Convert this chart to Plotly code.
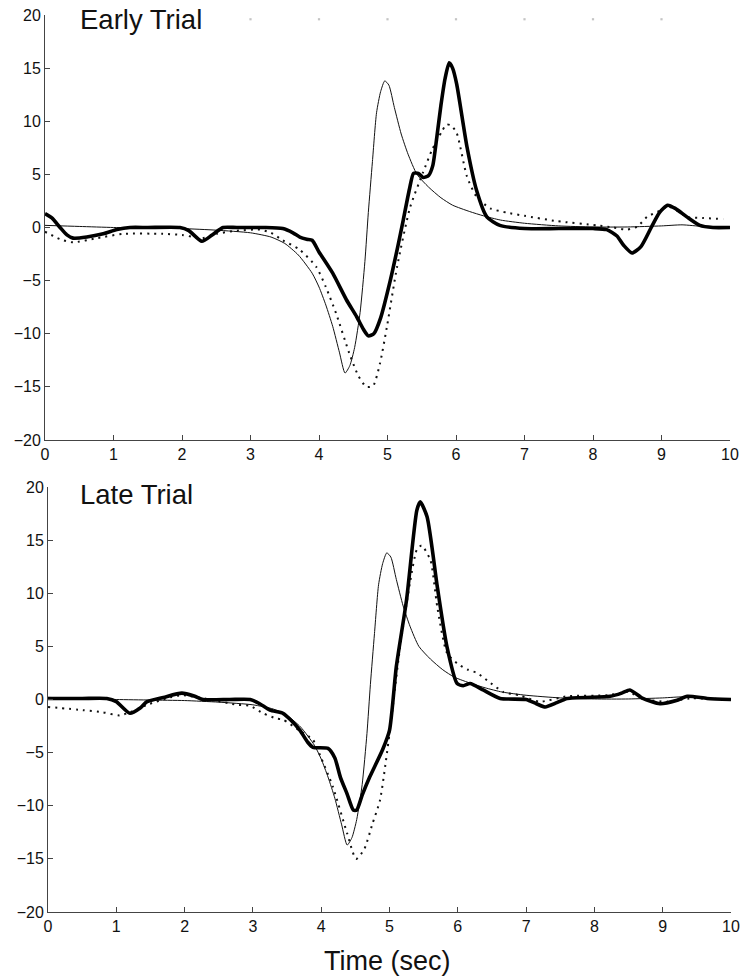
import plotly.graph_objects as go

# ---------------- data ----------------
# model / reference curve (thin line), same in both panels
model_t = [0, 0.5, 1.0, 1.5, 2.0, 2.5, 3.0, 3.3, 3.5, 3.7, 3.9, 4.0, 4.1, 4.2, 4.3, 4.38,
           4.45, 4.52, 4.6, 4.67, 4.72, 4.78, 4.84, 4.9, 4.96, 5.02, 5.1, 5.2, 5.3, 5.43,
           5.6, 5.78, 5.95, 6.2, 6.4, 6.65, 7.0, 7.5, 8.0, 8.5, 9.0, 9.3, 9.6, 10.0]
model_v = [0.2, 0.1, 0.0, -0.05, -0.1, -0.25, -0.5, -0.9, -1.5, -2.6, -4.3, -5.6, -7.3, -9.3, -11.8, -13.7,
           -13.0, -11.3, -8.0, -3.2, 1.4, 6.2, 10.8, 12.8, 13.8, 13.4, 11.3, 8.8, 6.9, 5.0,
           3.8, 2.8, 2.1, 1.5, 1.1, 0.7, 0.4, 0.15, 0.05, 0.05, 0.15, 0.25, 0.1, 0.0]

# Early trial, thick line
early_thick_t = [0, 0.1, 0.22, 0.32, 0.41, 0.61, 0.85, 1.05, 1.24, 1.5, 1.97, 2.1, 2.29, 2.44, 2.6,
                 2.8, 3.2, 3.47, 3.62, 3.72, 3.82, 3.9, 4.0, 4.2, 4.4, 4.55, 4.65, 4.72, 4.8, 4.9,
                 5.04, 5.15, 5.23, 5.32, 5.38, 5.45, 5.52, 5.6, 5.66, 5.72, 5.78, 5.84, 5.9, 5.95,
                 6.01, 6.16, 6.3, 6.45, 6.64, 7.0, 7.5, 8.0, 8.2, 8.35, 8.45, 8.57, 8.7, 8.85, 8.97,
                 9.09, 9.2, 9.37, 9.56, 9.75, 10.0]
early_thick_v = [1.3, 0.9, 0.0, -0.7, -1.0, -0.9, -0.6, -0.2, 0.0, 0.0, 0.0, -0.3, -1.3, -0.7, 0.0,
                 0.0, 0.0, -0.1, -0.5, -0.9, -1.1, -1.2, -2.3, -4.3, -6.8, -8.4, -9.6, -10.2, -10.0, -8.5,
                 -5.0, -1.8, 0.7, 3.6, 5.1, 5.1, 4.7, 4.9, 5.8, 8.5, 11.5, 14.0, 15.5, 15.0,
                 13.5, 7.6, 3.5, 1.0, 0.2, -0.1, -0.1, -0.1, -0.2, -0.8, -1.7, -2.4, -1.8, 0.0, 1.4,
                 2.1, 1.8, 1.0, 0.2, 0.0, 0.0]

# Early trial, dotted line
early_dot_t = [0, 0.22, 0.41, 0.76, 1.14, 1.72, 2.0, 2.3, 2.5, 2.8, 3.14, 3.3, 3.47, 3.72, 3.96,
               4.1, 4.25, 4.44, 4.57, 4.69, 4.79, 4.89, 4.99, 5.14, 5.33, 5.52, 5.65, 5.79, 5.86,
               5.93, 6.01, 6.16, 6.3, 6.5, 6.74, 7.0, 7.47, 8.06, 8.3, 8.5, 8.65, 8.79, 8.98, 9.09,
               9.2, 9.37, 9.6, 9.9]
early_dot_v = [-0.4, -1.1, -1.4, -1.0, -0.6, -0.6, -0.7, -1.0, -0.6, -0.3, -0.2, -0.5, -1.2, -2.1, -3.7,
               -5.6, -8.1, -11.8, -13.9, -15.0, -14.9, -12.8, -9.4, -3.7, 1.9, 5.2, 7.3, 9.0, 9.7,
               9.6, 8.9, 4.8, 2.9, 1.8, 1.4, 1.1, 0.6, 0.2, 0.0, -0.2, 0.1, 1.0, 1.6, 2.0,
               1.7, 1.0, 0.9, 0.8]

# Late trial, thick line
late_thick_t = [0, 0.5, 0.86, 1.0, 1.2, 1.35, 1.45, 1.69, 1.96, 2.15, 2.27, 2.66, 2.96, 3.1, 3.25,
                3.44, 3.55, 3.69, 3.8, 3.88, 4.1, 4.2, 4.28, 4.38, 4.47, 4.52, 4.6, 4.71, 4.9, 5.0,
                5.1, 5.25, 5.4, 5.45, 5.55, 5.7, 5.84, 5.99, 6.08, 6.18, 6.37, 6.62, 7.0, 7.15, 7.28,
                7.45, 7.6, 8.23, 8.4, 8.52, 8.71, 8.96, 9.2, 9.36, 9.65, 10.0]
late_thick_v = [0.1, 0.1, 0.1, -0.2, -1.3, -0.8, -0.2, 0.2, 0.6, 0.3, 0.0, 0.0, 0.0, -0.4, -1.0,
                -1.3, -1.9, -2.9, -4.0, -4.5, -4.6, -5.5, -7.3, -8.9, -10.4, -10.4, -9.0, -7.3, -4.7, -2.9,
                3.1, 9.4, 17.8, 18.6, 17.2, 10.6, 5.0, 1.5, 1.3, 1.5, 0.9, 0.1, 0.0, -0.4, -0.7,
                -0.3, 0.1, 0.3, 0.6, 0.9, 0.1, -0.4, -0.1, 0.3, 0.1, 0.0]

# Late trial, dotted line
late_dot_t = [0, 0.51, 0.8, 1.05, 1.2, 1.45, 1.79, 1.96, 2.37, 2.77, 2.96, 3.15, 3.35, 3.44, 3.7,
              3.88, 3.98, 4.17, 4.38, 4.51, 4.63, 4.75, 4.86, 5.0, 5.15, 5.3, 5.4, 5.47, 5.6, 5.7,
              5.84, 5.99, 6.15, 6.28, 6.43, 6.67, 6.9, 7.2, 7.6, 8.2, 8.48, 8.76, 9.06, 9.4, 10.0]
late_dot_v = [-0.7, -1.0, -1.2, -1.5, -1.2, -0.5, 0.2, 0.4, 0.0, -0.5, -0.6, -1.3, -1.8, -1.9, -3.0,
              -3.8, -5.2, -8.2, -12.6, -15.0, -14.1, -11.7, -9.5, -3.2, 4.7, 11.0, 14.1, 14.5, 13.1, 8.7,
              4.4, 3.4, 2.8, 2.5, 1.8, 0.7, 0.4, -0.2, 0.3, 0.4, 0.7, 0.0, -0.2, 0.1, 0.0]

# faint specks along the top edge of the upper panel
speck_t = [3, 4, 5, 6, 7, 8, 9]
speck_v = [19.6, 19.6, 19.6, 19.6, 19.6, 19.6, 19.6]

x_ticks = [0, 1, 2, 3, 4, 5, 6, 7, 8, 9, 10]
y_ticks = [-20, -15, -10, -5, 0, 5, 10, 15, 20]
panel_titles = ["Early Trial", "Late Trial"]
x_title = "Time (sec)"

# ---------------- figure ----------------
W, H = 744, 979
FONT = "Liberation Sans, Arial, Helvetica, sans-serif"

fig = go.Figure()


def add_panel(xa, ya, thick_t, thick_v, dot_t, dot_v):
    fig.add_trace(go.Scatter(x=model_t, y=model_v, mode="lines", xaxis=xa, yaxis=ya,
                             line=dict(color="#111", width=1, shape="spline", smoothing=0.6),
                             showlegend=False, hoverinfo="skip"))
    fig.add_trace(go.Scatter(x=dot_t, y=dot_v, mode="lines", xaxis=xa, yaxis=ya,
                             line=dict(color="#111", width=2, dash="2px,5px", shape="spline", smoothing=0.6),
                             showlegend=False, hoverinfo="skip"))
    fig.add_trace(go.Scatter(x=thick_t, y=thick_v, mode="lines", xaxis=xa, yaxis=ya,
                             line=dict(color="#000", width=3.6, shape="spline", smoothing=0.6),
                             showlegend=False, hoverinfo="skip"))


add_panel("x", "y", early_thick_t, early_thick_v, early_dot_t, early_dot_v)
add_panel("x2", "y2", late_thick_t, late_thick_v, late_dot_t, late_dot_v)

fig.add_trace(go.Scatter(x=speck_t, y=speck_v, mode="markers", xaxis="x", yaxis="y",
                         marker=dict(color="#c4c4c4", size=2.2, symbol="square"),
                         showlegend=False, hoverinfo="skip", cliponaxis=False))

axis_common = dict(showgrid=False, zeroline=False, showline=True, linecolor="#444", linewidth=1,
                   ticks="inside", ticklen=5, tickwidth=1, tickcolor="#444", mirror=False,
                   automargin=False, tickfont=dict(family=FONT, size=16, color="#111"))

top_y = [1 - 440 / H, 1 - 15 / H]
bot_y = [1 - 912 / H, 1 - 487 / H]

fig.update_layout(
    width=W, height=H,
    margin=dict(l=0, r=0, t=0, b=0),
    paper_bgcolor="white", plot_bgcolor="white",
    template="none",
    xaxis=dict(domain=[45 / W, 730 / W], anchor="y", range=[0, 10], tickvals=x_ticks, **axis_common),
    yaxis=dict(domain=top_y, anchor="x", range=[-20, 20], tickvals=y_ticks, **axis_common),
    xaxis2=dict(domain=[48 / W, 731 / W], anchor="y2", range=[0, 10], tickvals=x_ticks, **axis_common),
    yaxis2=dict(domain=bot_y, anchor="x2", range=[-20, 20], tickvals=y_ticks, **axis_common),
    annotations=[
        dict(text=panel_titles[0], x=78 / W, y=1 - 19.5 / H, xref="paper", yref="paper",
             xanchor="left", yanchor="middle", showarrow=False,
             font=dict(family=FONT, size=27.5, color="#111")),
        dict(text=panel_titles[1], x=78 / W, y=1 - 494 / H, xref="paper", yref="paper",
             xanchor="left", yanchor="middle", showarrow=False,
             font=dict(family=FONT, size=27.5, color="#111")),
        dict(text=x_title, x=387 / W, y=1 - 961 / H, xref="paper", yref="paper",
             xanchor="center", yanchor="middle", showarrow=False,
             font=dict(family=FONT, size=27, color="#111")),
    ],
)

fig.write_html("out.html")
